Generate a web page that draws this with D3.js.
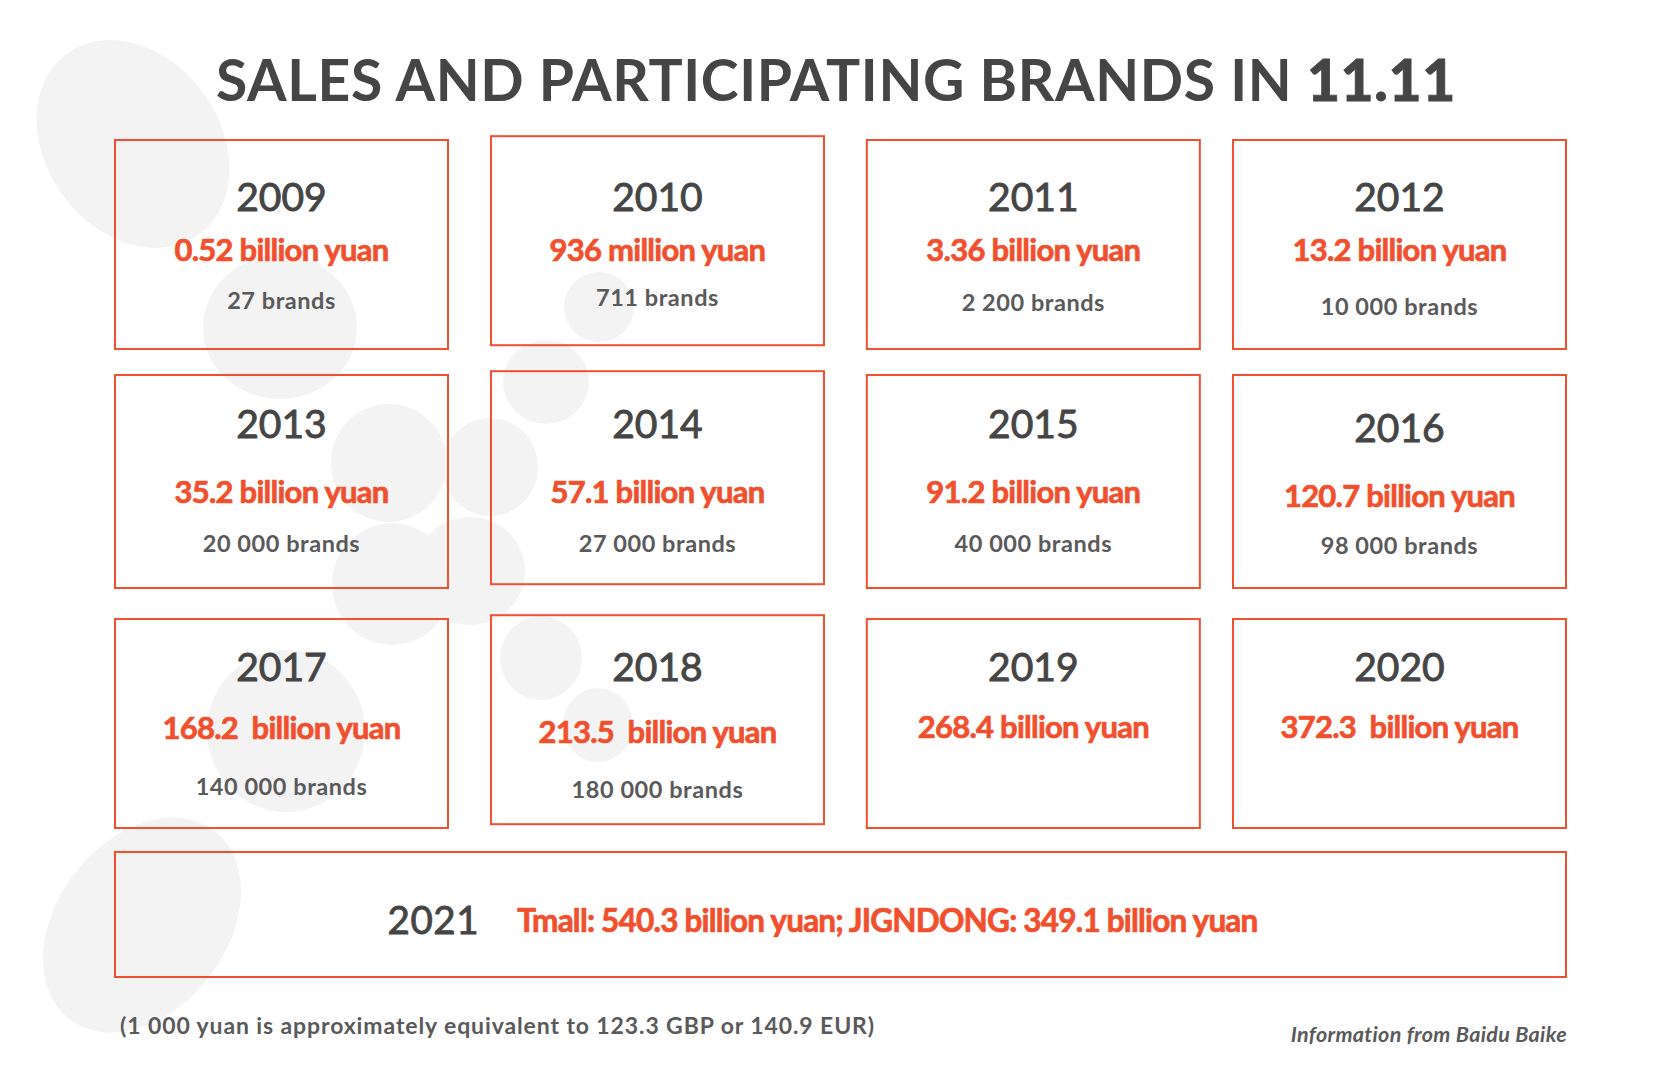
<!DOCTYPE html>
<html>
<head>
<meta charset="utf-8">
<script src="https://cdn.jsdelivr.net/npm/d3@7"></script>
<style>
  html, body { margin: 0; padding: 0; background: #ffffff; }
  svg { display: block; font-family: Lato, "Open Sans", sans-serif; }
  text { white-space: pre; }
</style>
</head>
<body>
<svg id="chart" width="1669" height="1080"></svg>
<script>
// ---------------- DATA ----------------
const years = ["2009", "2010", "2011", "2012", "2013", "2014", "2015", "2016", "2017", "2018", "2019", "2020"];
const salesLabels = [
  "0.52 billion yuan", "936 million yuan", "3.36 billion yuan", "13.2 billion yuan",
  "35.2 billion yuan", "57.1 billion yuan", "91.2 billion yuan", "120.7 billion yuan",
  "168.2  billion yuan", "213.5  billion yuan", "268.4 billion yuan", "372.3  billion yuan"
];
const brandLabels = [
  "27 brands", "711 brands", "2 200 brands", "10 000 brands",
  "20 000 brands", "27 000 brands", "40 000 brands", "98 000 brands",
  "140 000 brands", "180 000 brands", "", ""
];
const lastYear = "2021";
const lastSales = "Tmall: 540.3 billion yuan; JIGNDONG: 349.1 billion yuan";
const titleMain = "SALES AND PARTICIPATING BRANDS IN ";
const titleBold = "11.11";
const footNote = "(1 000 yuan is approximately equivalent to 123.3 GBP or 140.9 EUR)";
const credit = "Information from Baidu Baike";

// ---------------- STYLE / LAYOUT ----------------
const RED = "#f0502d";
const DARK = "#454545";
const GREY = "#5a5a5a";
const BLOB = "#f3f3f3";
const W = 1669, H = 1080;

// decorative background blobs (cx, cy, rx, ry, rotation)
const blobs = [
  [133, 144, 112, 87, 53.7],
  [280, 327, 77, 72, 0],
  [599, 307, 35, 35, 0],
  [546, 382, 43, 42, 0],
  [389, 463, 58, 59, 0],
  [490, 467, 48, 49, 0],
  [392, 584, 60, 61, 0],
  [470, 571, 55, 54, 0],
  [541, 658, 41, 42, 0],
  [598, 725, 35, 37, 0],
  [286, 731, 79, 81, 0],
  [142, 925, 119, 85, -52.4]
];

const svg = d3.select("#chart");

svg.append("g").selectAll("ellipse").data(blobs).join("ellipse")
  .attr("cx", 0).attr("cy", 0)
  .attr("rx", d => d[2]).attr("ry", d => d[3])
  .attr("transform", d => `translate(${d[0]},${d[1]}) rotate(${d[4]})`)
  .attr("fill", BLOB);

// helper: spread letters so a text line reaches a target width
function fitWidth(sel, target) {
  const n = sel.text().length;
  const w = sel.node().getComputedTextLength();
  sel.attr("letter-spacing", (target - w) / n);
}

// title
const title = svg.append("text")
  .attr("x", W / 2 + 1.5).attr("y", 100.5)
  .attr("text-anchor", "middle")
  .attr("font-size", 57).attr("font-weight", 700).attr("fill", DARK);
title.append("tspan").text(titleMain);
title.append("tspan").attr("font-weight", 900)
  .attr("stroke", DARK).attr("stroke-width", 0.8).text(titleBold);
fitWidth(title, 1240);

// grid scales
const nCols = 4;
const x = d3.scaleBand().domain(d3.range(nCols)).range([115, 1566]).paddingInner(0.1064);
const y = d3.scaleBand().domain(d3.range(3)).range([140, 828]).paddingInner(0.1273);

const colShift = [0, 3.3, 6.5, 0];
const colLift = [0, -3.8, 0, 0];
const rowTop = [0, -4.5, 0];
const rowGrow = [0, 4, 0];
const yearOff = [70.5, 63.5, 62];
const valueOff = [120.5, 128.5, 118.5];
const brandOff = [169, 177.5, 175];
// small per-cell nudges of the text lines
const yearDy  = [0, 0, 0, 0,  0, 0, 0, 4,  0, 0, 0, 0];
const valueDy = [0, 0, 0, 0,  0, 0, 0, 4,  2, 6, 1, 1];
const brandDy = [0, -3, 2, 6, 0, 0, 0, 2,  1, 4, 0, 0];

const cells = years.map((yr, i) => {
  const c = i % nCols, r = Math.floor(i / nCols);
  const x0 = x(c) + colShift[c];
  const top = y(r) + rowTop[r];
  return {
    i, year: yr, sales: salesLabels[i], brands: brandLabels[i],
    x0, w: x.bandwidth(), cx: x0 + x.bandwidth() / 2,
    y0: top + colLift[c], h: y.bandwidth() + rowGrow[r],
    top, r
  };
});

const g = svg.append("g");
g.selectAll("rect.box").data(cells).join("rect")
  .attr("class", "box")
  .attr("x", d => d.x0).attr("y", d => d.y0)
  .attr("width", d => d.w).attr("height", d => d.h)
  .attr("fill", "none").attr("stroke", RED).attr("stroke-width", 2);

g.selectAll("text.year").data(cells).join("text")
  .attr("class", "year")
  .attr("x", d => d.cx).attr("y", d => d.top + yearOff[d.r] + yearDy[d.i])
  .attr("text-anchor", "middle")
  .attr("font-size", 39).attr("font-weight", 400).attr("fill", DARK)
  .attr("stroke", DARK).attr("stroke-width", 0.9)
  .text(d => d.year);

g.selectAll("text.sales").data(cells).join("text")
  .attr("class", "sales")
  .attr("x", d => d.cx).attr("y", d => d.top + valueOff[d.r] + valueDy[d.i])
  .attr("text-anchor", "middle")
  .attr("font-size", 31).attr("font-weight", 700).attr("fill", RED)
  .attr("stroke", RED).attr("stroke-width", 0.7)
  .attr("letter-spacing", -0.75)
  .text(d => d.sales);

g.selectAll("text.brands").data(cells).join("text")
  .attr("class", "brands")
  .attr("x", d => d.cx).attr("y", d => d.top + brandOff[d.r] + brandDy[d.i])
  .attr("text-anchor", "middle")
  .attr("font-size", 23.5).attr("font-weight", 700).attr("fill", GREY)
  .attr("letter-spacing", 0.55)
  .text(d => d.brands);

// 2021 wide box
const bx0 = x(0), bx1 = x(nCols - 1) + x.bandwidth();
const by0 = y(2) + y.bandwidth() + 24, bh = 125;
g.append("rect")
  .attr("x", bx0).attr("y", by0).attr("width", bx1 - bx0).attr("height", bh)
  .attr("fill", "none").attr("stroke", RED).attr("stroke-width", 2);

const yt = g.append("text")
  .attr("y", by0 + 82)
  .attr("font-size", 38.5).attr("font-weight", 400).attr("fill", DARK)
  .attr("stroke", DARK).attr("stroke-width", 0.9)
  .attr("letter-spacing", 0.6)
  .text(lastYear);
const st = g.append("text")
  .attr("y", by0 + 79.5)
  .attr("font-size", 31.5).attr("font-weight", 700).attr("fill", RED)
  .attr("stroke", RED).attr("stroke-width", 0.7)
  .attr("letter-spacing", -0.8)
  .text(lastSales);
const gap = 38;
const wy = yt.node().getComputedTextLength();
const ws = st.node().getComputedTextLength();
const start = (bx0 + bx1) / 2 - (wy + gap + ws) / 2 - 18;
yt.attr("x", start);
st.attr("x", start + wy + gap);

// footer
const fn = svg.append("text")
  .attr("x", 120).attr("y", 1033.5)
  .attr("font-size", 23).attr("font-weight", 700).attr("fill", GREY)
  .text(footNote);
fitWidth(fn, 755);

const cr = svg.append("text")
  .attr("x", 1567).attr("y", 1041.5)
  .attr("text-anchor", "end")
  .attr("font-size", 21.5).attr("font-weight", 700).attr("font-style", "italic").attr("fill", GREY)
  .text(credit);
fitWidth(cr, 276);
</script>
</body>
</html>
